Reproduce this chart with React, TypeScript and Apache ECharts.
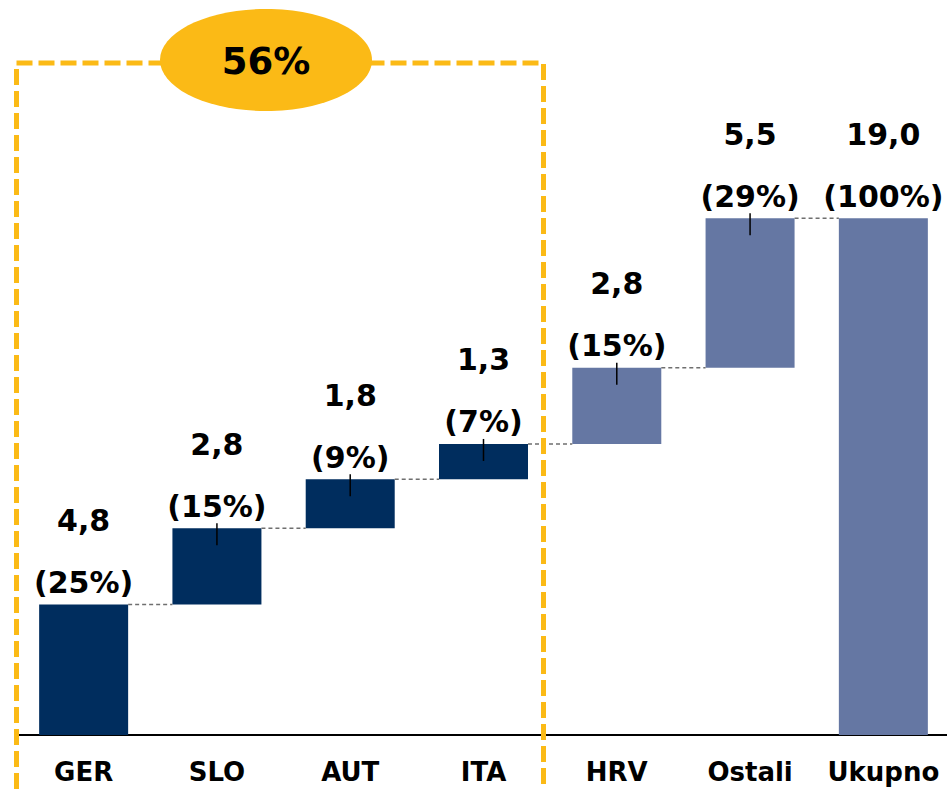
import React, { useEffect, useRef } from "react";
import * as echarts from "echarts";

const categories = ["GER", "SLO", "AUT", "ITA", "HRV", "Ostali", "Ukupno"];
const values = [4.8, 2.8, 1.8, 1.3, 2.8, 5.5, 19.0];
const shares = [25, 15, 9, 7, 15, 29, 100];
const isTotal = [false, false, false, false, false, false, true];
const highlighted = [true, true, true, true, false, false, false];
const groupShareLabel = "56%";

const NAVY = "#002D5E";
const LIGHT = "#6577A3";
const YELLOW = "#FBBA16";
const BAR_W = 89;
const FONT = "'DejaVu Sans', sans-serif";

export default function App() {
  const ref = useRef<HTMLDivElement>(null);

  useEffect(() => {
    if (!ref.current) return;
    const chart = echarts.init(ref.current, undefined, { renderer: "svg" });

    const bases: number[] = [];
    const tops: number[] = [];
    let cum = 0;
    values.forEach((v, i) => {
      if (isTotal[i]) {
        bases.push(0);
        tops.push(v);
      } else {
        bases.push(cum);
        cum += v;
        tops.push(cum);
      }
    });

    const fmt = (v: number) => v.toFixed(1).replace(".", ",");

    const connectorData = tops.slice(0, -1).map((t, i) => [i, t]);
    const tickData = tops
      .map((t, i) => [i, t])
      .filter((d) => d[0] !== 0 && !isTotal[d[0]]);

    chart.setOption({
      animation: false,
      grid: { left: 17, right: 0, top: 191, bottom: 54, containLabel: false },
      xAxis: {
        type: "category",
        data: categories,
        axisTick: { show: false },
        axisLine: { lineStyle: { color: "#000", width: 2 } },
        axisLabel: {
          interval: 0,
          color: "#000",
          fontFamily: FONT,
          fontWeight: "bold",
          fontSize: 26,
          lineHeight: 26,
          margin: 24,
        },
      },
      yAxis: {
        type: "value",
        min: 0,
        max: 20,
        show: false,
        splitLine: { show: false },
      },
      series: [
        {
          type: "bar",
          stack: "w",
          barWidth: BAR_W,
          silent: true,
          itemStyle: { color: "transparent" },
          data: bases,
        },
        {
          type: "bar",
          stack: "w",
          barWidth: BAR_W,
          data: values.map((v, i) => ({
            value: v,
            itemStyle: { color: highlighted[i] ? NAVY : LIGHT },
          })),
          label: {
            show: true,
            position: "top",
            distance: 0,
            offset: [0, 9],
            color: "#000",
            fontFamily: FONT,
            fontWeight: "bold",
            fontSize: 30,
            lineHeight: 62,
            formatter: (p: any) => `${fmt(values[p.dataIndex])}\n(${shares[p.dataIndex]}%)`,
          },
        },
        {
          type: "custom",
          z: 5,
          silent: true,
          data: connectorData,
          renderItem: (params: any, api: any) => {
            const i = api.value(0);
            const v = api.value(1);
            const p1 = api.coord([i, v]);
            const p2 = api.coord([i + 1, v]);
            return {
              type: "line",
              shape: { x1: p1[0] + BAR_W / 2, y1: p1[1], x2: p2[0] - BAR_W / 2, y2: p2[1] },
              style: { stroke: "#6F6F6F", lineWidth: 1.4, lineDash: [4, 3] },
            };
          },
        },
        {
          type: "custom",
          z: 6,
          silent: true,
          data: tickData,
          renderItem: (params: any, api: any) => {
            const p = api.coord([api.value(0), api.value(1)]);
            return {
              type: "line",
              shape: { x1: p[0], y1: p[1] - 5, x2: p[0], y2: p[1] + 17 },
              style: { stroke: "#000", lineWidth: 1.5 },
            };
          },
        },
      ],
      graphic: [
        {
          type: "polyline",
          z: 100,
          silent: true,
          shape: { points: [[16.5, 789], [16.5, 63], [543.5, 63], [543.5, 789]] },
          style: { stroke: YELLOW, lineWidth: 5, lineDash: [16, 6], fill: null },
        },
        {
          type: "ellipse",
          z: 101,
          silent: true,
          shape: { cx: 266, cy: 60, rx: 106, ry: 51 },
          style: { fill: YELLOW },
        },
        {
          type: "text",
          z: 102,
          silent: true,
          x: 266,
          y: 61,
          style: {
            text: groupShareLabel,
            fill: "#000",
            font: `bold 37px ${FONT}`,
            align: "center",
            verticalAlign: "middle",
          },
        },
      ],
    });

    return () => chart.dispose();
  }, []);

  return (
    <div style={{ position: "fixed", left: 0, top: 0, width: 947, height: 789, overflow: "hidden", background: "#fff" }}>
      <div ref={ref} style={{ width: 950, height: 789 }} />
    </div>
  );
}
